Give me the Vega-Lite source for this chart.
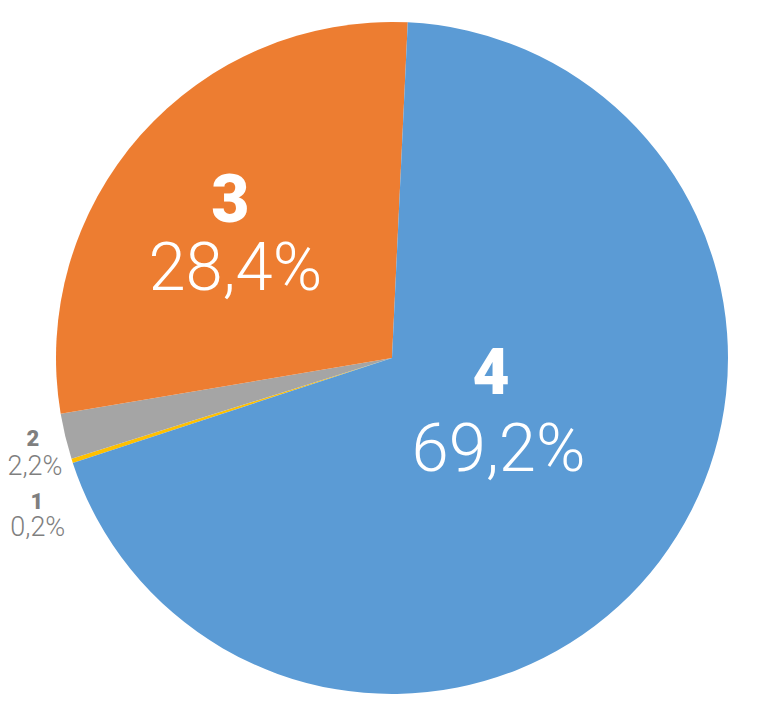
{
  "$schema": "https://vega.github.io/schema/vega-lite/v6.json",
  "width": 778,
  "height": 728,
  "autosize": {"type": "fit", "contains": "padding"},
  "padding": {"left": 6, "right": 0, "top": 0, "bottom": 12},
  "background": "white",
  "view": {"stroke": null},
  "data": {
    "values": [
      {"category": "1", "value": 0.2, "label": "0,2%"},
      {"category": "2", "value": 2.2, "label": "2,2%"},
      {"category": "3", "value": 28.4, "label": "28,4%"},
      {"category": "4", "value": 69.2, "label": "69,2%"}
    ]
  },
  "encoding": {
    "theta": {"field": "value", "type": "quantitative", "stack": true, "scale": {"range": [4.3949, 10.6781]}},
    "order": {"field": "value", "type": "quantitative", "sort": "ascending"}
  },
  "layer": [
    {
      "mark": {"type": "arc", "outerRadius": 336},
      "encoding": {
        "color": {"field": "category", "type": "nominal", "legend": null,
          "scale": {"domain": ["1", "2", "3", "4"], "range": ["#FFC000", "#A5A5A5", "#ED7D31", "#5B9BD5"]}}
      }
    },
    {
      "mark": {"type": "text", "radius": 120, "dx": 3.5, "dy": -37, "baseline": "alphabetic", "align": "center", "font": "Roboto", "fontWeight": 900, "fontSize": 64, "fill": "white"},
      "encoding": {"text": {"condition": {"test": "datum.category == '4'", "field": "category"}, "value": ""}}
    },
    {
      "mark": {"type": "text", "radius": 120, "dx": 11, "dy": 40, "baseline": "alphabetic", "align": "center", "font": "Roboto", "fontWeight": 300, "fontSize": 67, "fill": "white"},
      "encoding": {"text": {"condition": {"test": "datum.category == '4'", "field": "label"}, "value": ""}}
    },
    {
      "mark": {"type": "text", "radius": 200, "dx": -12, "dy": -3, "baseline": "alphabetic", "align": "center", "font": "Roboto", "fontWeight": 900, "fontSize": 66, "fill": "white"},
      "encoding": {"text": {"condition": {"test": "datum.category == '3'", "field": "category"}, "value": ""}}
    },
    {
      "mark": {"type": "text", "radius": 200, "dx": -7, "dy": 65, "baseline": "alphabetic", "align": "center", "font": "Roboto", "fontWeight": 300, "fontSize": 67, "fill": "white"},
      "encoding": {"text": {"condition": {"test": "datum.category == '3'", "field": "label"}, "value": ""}}
    },
    {
      "mark": {"type": "text", "radius": 360, "dx": -9, "dy": 4, "baseline": "alphabetic", "align": "center", "font": "Roboto", "fontWeight": 900, "fontSize": 22, "fill": "#7F7F7F"},
      "encoding": {"text": {"condition": {"test": "datum.category == '2'", "field": "category"}, "value": ""}}
    },
    {
      "mark": {"type": "text", "radius": 360, "dx": -7, "dy": 33, "baseline": "alphabetic", "align": "center", "font": "Roboto", "fontWeight": 300, "fontSize": 27, "fill": "#7F7F7F"},
      "encoding": {"text": {"condition": {"test": "datum.category == '2'", "field": "label"}, "value": ""}}
    },
    {
      "mark": {"type": "text", "radius": 370, "dx": -3, "dy": 38, "baseline": "alphabetic", "align": "center", "font": "Roboto", "fontWeight": 900, "fontSize": 22, "fill": "#7F7F7F"},
      "encoding": {"text": {"condition": {"test": "datum.category == '1'", "field": "category"}, "value": ""}}
    },
    {
      "mark": {"type": "text", "radius": 370, "dx": -2, "dy": 65, "baseline": "alphabetic", "align": "center", "font": "Roboto", "fontWeight": 300, "fontSize": 27, "fill": "#7F7F7F"},
      "encoding": {"text": {"condition": {"test": "datum.category == '1'", "field": "label"}, "value": ""}}
    }
  ]
}
